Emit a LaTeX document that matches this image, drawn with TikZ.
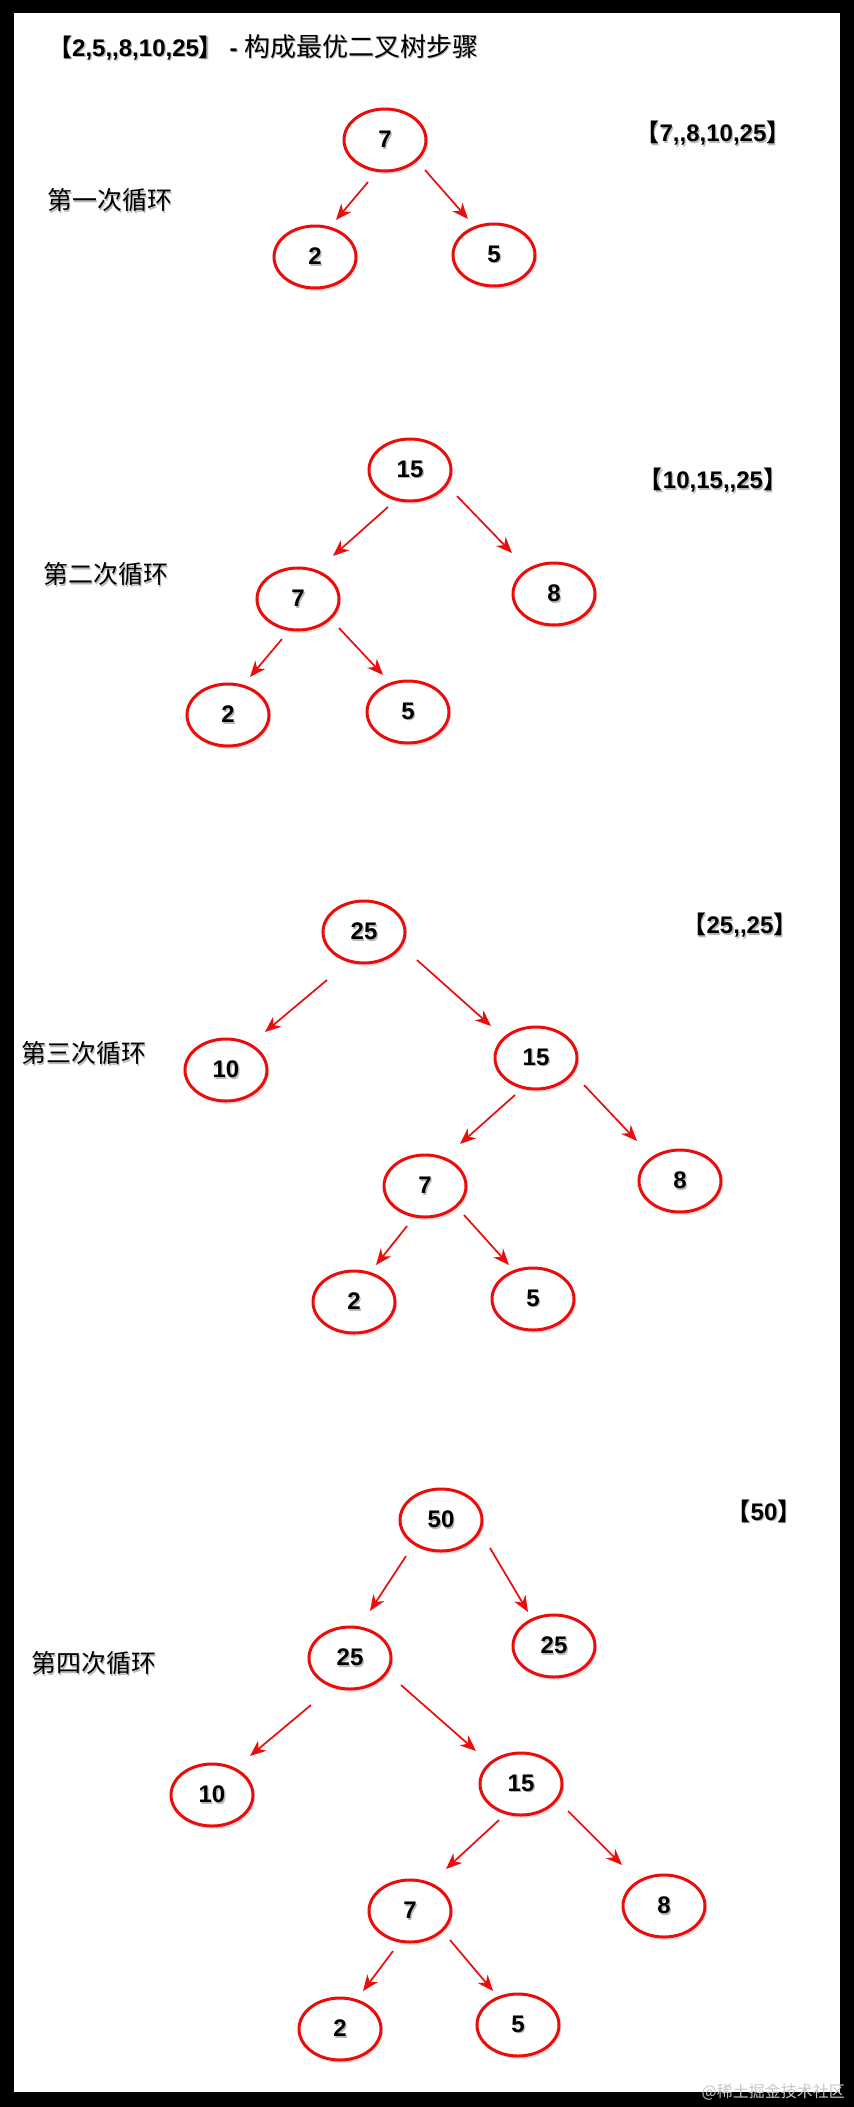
\documentclass[tikz,border=0pt]{standalone}
\usepackage{fontspec}
\setmainfont[Ligatures=TeXOff]{Liberation Sans}
\newfontfamily\cjk{Noto Sans CJK SC}
\usetikzlibrary{arrows.meta,shapes.geometric,shadows}
\definecolor{rred}{RGB}{235,12,12}
\newcommand\shd[1]{\rlap{\kern1.3pt\raisebox{-1.6pt}{\color{black!28}#1}}#1}
\newcommand\lbk{{\cjk\bfseries 【}}
\newcommand\rbk{{\cjk\bfseries 】}}
\begin{document}
\begin{tikzpicture}[x=1pt,y=-1pt,
  tn/.style={ellipse,draw=rred,line width=3pt,fill=white,minimum width=82pt,minimum height=62pt,inner sep=0pt,
    font=\fontsize{24pt}{28pt}\selectfont\bfseries,
    drop shadow={opacity=0.25,shadow xshift=2pt,shadow yshift=-3pt}},
  arr/.style={draw=rred,line width=1.7pt,-{Stealth[length=16pt,width=13pt,inset=5pt]}},
  lbl/.style={font=\fontsize{24pt}{28pt}\selectfont\bfseries,inner sep=0pt},
  stp/.style={font=\cjk\fontsize{25pt}{30pt}\selectfont,inner sep=0pt},
]
\fill[black] (0,0) rectangle (854,2107);
\fill[white] (14,13) rectangle (840,2092);

% title
\node[lbl,anchor=west] (title) at (48,48) {\shd{\lbk 2,5,,8,10,25\rbk\ -\ {\cjk\mdseries\fontsize{26pt}{30pt}\selectfont 构成最优二叉树步骤}}};

% ---------- tree 1
\node[stp] (s1) at (110,201) {\shd{第一次循环}};
\node[lbl] (l1) at (713,134) {\shd{\lbk 7,,8,10,25\rbk}};
\node[tn] (a1) at (385,140) {\shd{7}};
\node[tn] (b1) at (315,257) {\shd{2}};
\node[tn] (c1) at (494,255) {\shd{5}};
\draw[arr] ([shift={(-17,42)}]a1.center) -- ([shift={(21,-37)}]b1.center);
\draw[arr] ([shift={(40,30)}]a1.center) -- ([shift={(-26,-36)}]c1.center);

% ---------- tree 2
\node[stp] (s2) at (106,575) {\shd{第二次循环}};
\node[lbl] (l2) at (713,481) {\shd{\lbk 10,15,,25\rbk}};
\node[tn] (a2) at (410,470) {\shd{15}};
\node[tn] (b2) at (298,599) {\shd{7}};
\node[tn] (c2) at (554,594) {\shd{8}};
\node[tn] (d2) at (228,715) {\shd{2}};
\node[tn] (e2) at (408,712) {\shd{5}};
\draw[arr] ([shift={(-22,37)}]a2.center) -- ([shift={(35,-43)}]b2.center);
\draw[arr] ([shift={(47,26)}]a2.center) -- ([shift={(-42,-41)}]c2.center);
\draw[arr] ([shift={(-16,40)}]b2.center) -- ([shift={(22,-38)}]d2.center);
\draw[arr] ([shift={(41,29)}]b2.center) -- ([shift={(-25,-37)}]e2.center);

% ---------- tree 3
\node[stp] (s3) at (84,1054) {\shd{第三次循环}};
\node[lbl] (l3) at (740,926) {\shd{\lbk 25,,25\rbk}};
\node[tn] (a3) at (364,932) {\shd{25}};
\node[tn] (b3) at (226,1070) {\shd{10}};
\node[tn] (c3) at (536,1058) {\shd{15}};
\node[tn] (d3) at (425,1186) {\shd{7}};
\node[tn] (e3) at (680,1181) {\shd{8}};
\node[tn] (f3) at (354,1302) {\shd{2}};
\node[tn] (g3) at (533,1299) {\shd{5}};
\draw[arr] ([shift={(-37,48)}]a3.center) -- ([shift={(39,-38)}]b3.center);
\draw[arr] ([shift={(53,28)}]a3.center) -- ([shift={(-45,-32)}]c3.center);
\draw[arr] ([shift={(-21,37)}]c3.center) -- ([shift={(35,-42)}]d3.center);
\draw[arr] ([shift={(48,27)}]c3.center) -- ([shift={(-43,-40)}]e3.center);
\draw[arr] ([shift={(-18,40)}]d3.center) -- ([shift={(22,-37)}]f3.center);
\draw[arr] ([shift={(39,29)}]d3.center) -- ([shift={(-24,-34)}]g3.center);

% ---------- tree 4
\node[stp] (s4) at (94,1664) {\shd{第四次循环}};
\node[lbl] (l4) at (764,1512) {\shd{\lbk 50\rbk}};
\node[tn] (a4) at (441,1520) {\shd{50}};
\node[tn] (b4) at (350,1658) {\shd{25}};
\node[tn] (c4) at (554,1646) {\shd{25}};
\node[tn] (d4) at (212,1795) {\shd{10}};
\node[tn] (e4) at (521,1784) {\shd{15}};
\node[tn] (f4) at (410,1911) {\shd{7}};
\node[tn] (g4) at (664,1906) {\shd{8}};
\node[tn] (h4) at (340,2029) {\shd{2}};
\node[tn] (i4) at (518,2025) {\shd{5}};
\draw[arr] ([shift={(-35,36)}]a4.center) -- ([shift={(20,-47)}]b4.center);
\draw[arr] ([shift={(49,28)}]a4.center) -- ([shift={(-26,-34)}]c4.center);
\draw[arr] ([shift={(-39,47)}]b4.center) -- ([shift={(38,-39)}]d4.center);
\draw[arr] ([shift={(51,27)}]b4.center) -- ([shift={(-45,-33)}]e4.center);
\draw[arr] ([shift={(-22,36)}]e4.center) -- ([shift={(36,-42)}]f4.center);
\draw[arr] ([shift={(47,27)}]e4.center) -- ([shift={(-42,-41)}]g4.center);
\draw[arr] ([shift={(-17,40)}]f4.center) -- ([shift={(23,-38)}]h4.center);
\draw[arr] ([shift={(40,29)}]f4.center) -- ([shift={(-25,-34)}]i4.center);

% watermark
\node[font=\cjk\fontsize{16pt}{18pt}\selectfont,text=black!22,anchor=east,inner sep=0pt] (wm) at (845,2092) {@稀土掘金技术社区};
\end{tikzpicture}
\end{document}
